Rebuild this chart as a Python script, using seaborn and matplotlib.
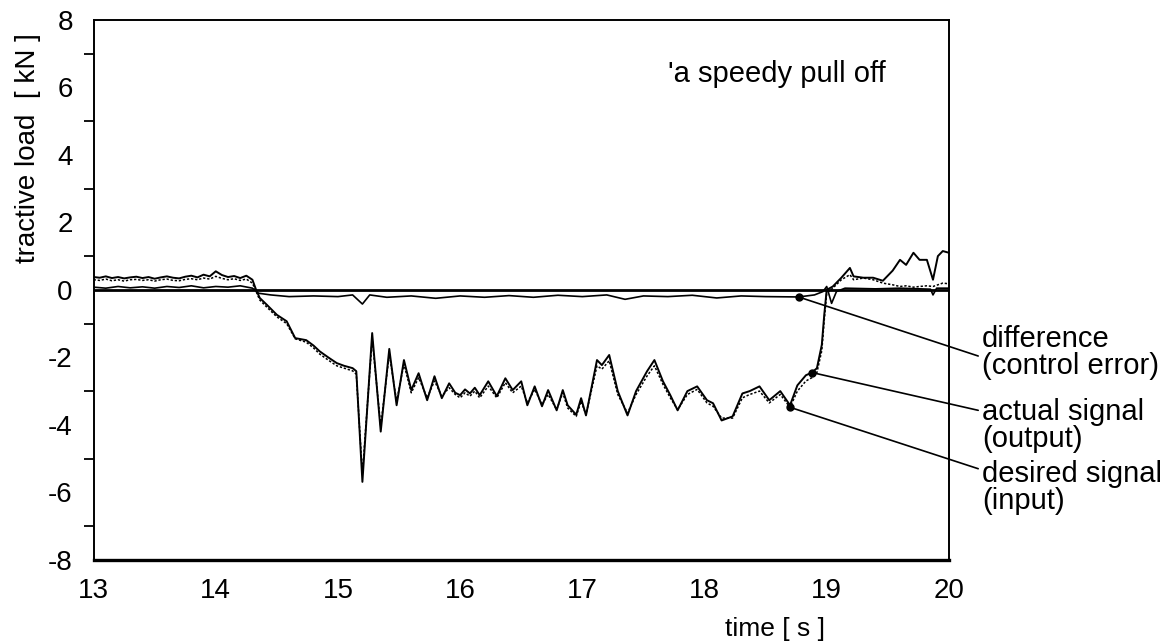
import numpy as np
import pandas as pd
import matplotlib
matplotlib.use("Agg")
import matplotlib.pyplot as plt
import seaborn as sns

# ---------------- data ----------------
time_sig = [13.00, 13.05, 13.10, 13.15, 13.20, 13.25, 13.30, 13.35, 13.40, 13.45,
            13.50, 13.55, 13.60, 13.65, 13.70, 13.75, 13.80, 13.85, 13.90, 13.95,
            14.00, 14.05, 14.10, 14.15, 14.20, 14.25, 14.30,
            14.33, 14.36, 14.42, 14.50, 14.58, 14.65, 14.74, 14.80, 14.85, 14.92,
            14.99, 15.05, 15.12, 15.15, 15.20, 15.28, 15.35, 15.42, 15.48, 15.54,
            15.60, 15.66, 15.73, 15.79, 15.85, 15.91, 15.96, 16.00, 16.04, 16.08,
            16.12, 16.16, 16.23, 16.30, 16.37, 16.43, 16.50, 16.55, 16.61, 16.67,
            16.72, 16.79, 16.84, 16.88, 16.95, 16.99, 17.03, 17.12, 17.16, 17.22,
            17.29, 17.37, 17.44, 17.53, 17.59, 17.66, 17.72, 17.78, 17.86, 17.94,
            18.02, 18.07, 18.14, 18.23, 18.31, 18.37, 18.45, 18.53, 18.62, 18.70,
            18.76, 18.83, 18.88, 18.92, 18.96, 18.98, 19.00, 19.05, 19.12, 19.19,
            19.22, 19.30, 19.38, 19.46, 19.54, 19.60, 19.65, 19.71, 19.76, 19.82,
            19.87, 19.91, 19.95, 20.00]

actual = [0.38, 0.36, 0.40, 0.35, 0.38, 0.34, 0.37, 0.39, 0.35, 0.38,
          0.33, 0.37, 0.40, 0.36, 0.34, 0.39, 0.42, 0.37, 0.45, 0.40,
          0.55, 0.44, 0.38, 0.41, 0.35, 0.42, 0.30,
          0.00, -0.24, -0.45, -0.74, -0.93, -1.43, -1.49, -1.65, -1.82, -2.00,
          -2.17, -2.25, -2.32, -2.41, -5.69, -1.28, -4.20, -1.75, -3.42, -2.08,
          -2.97, -2.47, -3.27, -2.56, -3.21, -2.77, -3.05, -3.12, -2.95, -3.07,
          -2.90, -3.12, -2.71, -3.15, -2.62, -2.97, -2.71, -3.42, -2.86, -3.45,
          -2.97, -3.57, -2.97, -3.42, -3.70, -3.21, -3.72, -2.08, -2.23, -1.93,
          -3.00, -3.72, -3.00, -2.41, -2.08, -2.71, -3.12, -3.57, -3.00, -2.86,
          -3.27, -3.36, -3.87, -3.75, -3.07, -3.00, -2.86, -3.27, -3.00, -3.42,
          -2.83, -2.53, -2.45, -2.32, -1.63, -0.74, 0.00, 0.10, 0.36, 0.65,
          0.40, 0.36, 0.36, 0.27, 0.57, 0.89, 0.74, 1.10, 0.89, 0.89,
          0.30, 1.00, 1.15, 1.10]

desired = [0.30, 0.28, 0.32, 0.27, 0.30, 0.26, 0.30, 0.31, 0.28, 0.30,
           0.26, 0.30, 0.32, 0.28, 0.27, 0.31, 0.33, 0.30, 0.35, 0.32,
           0.40, 0.34, 0.30, 0.33, 0.28, 0.32, 0.20,
           -0.05, -0.30, -0.52, -0.80, -1.00, -1.45, -1.55, -1.72, -1.90, -2.08,
           -2.25, -2.32, -2.40, -2.50, -5.45, -1.45, -4.05, -1.90, -3.30, -2.20,
           -3.05, -2.60, -3.20, -2.70, -3.15, -2.90, -3.10, -3.20, -3.05, -3.15,
           -3.00, -3.20, -2.85, -3.20, -2.75, -3.05, -2.85, -3.35, -2.95, -3.40,
           -3.10, -3.55, -3.05, -3.50, -3.75, -3.30, -3.70, -2.25, -2.35, -2.10,
           -3.10, -3.65, -3.10, -2.55, -2.25, -2.80, -3.20, -3.55, -3.10, -2.95,
           -3.35, -3.45, -3.80, -3.80, -3.20, -3.10, -3.00, -3.35, -3.10, -3.48,
           -3.00, -2.70, -2.60, -2.45, -1.80, -0.90, -0.10, 0.05, 0.30, 0.45,
           0.30, 0.35, 0.30, 0.20, 0.15, 0.10, 0.12, 0.08, 0.10, 0.12,
           0.10, 0.15, 0.20, 0.18]

time_diff = [13.0, 13.1, 13.2, 13.3, 13.4, 13.5, 13.6, 13.7, 13.8, 13.9,
             14.0, 14.1, 14.2, 14.3, 14.35, 14.45, 14.6, 14.8, 15.0, 15.12,
             15.2, 15.26, 15.4, 15.6, 15.8, 16.0, 16.2, 16.4, 16.6, 16.8,
             17.0, 17.2, 17.35, 17.5, 17.7, 17.9, 18.1, 18.3, 18.5, 18.77,
             18.9, 18.97, 19.0, 19.04, 19.08, 19.15, 19.4, 19.6, 19.85, 19.87,
             19.9, 20.0]
difference = [0.08, 0.05, 0.10, 0.06, 0.09, 0.05, 0.10, 0.07, 0.12, 0.06,
              0.10, 0.08, 0.12, 0.05, -0.10, -0.15, -0.20, -0.18, -0.20, -0.15,
              -0.42, -0.15, -0.22, -0.18, -0.25, -0.18, -0.22, -0.17, -0.22, -0.16,
              -0.20, -0.15, -0.28, -0.18, -0.20, -0.16, -0.24, -0.18, -0.20, -0.21,
              -0.15, -0.05, 0.10, -0.40, -0.05, 0.05, 0.03, 0.05, 0.02, -0.15,
              0.05, 0.05]

x_ticks = [13, 14, 15, 16, 17, 18, 19, 20]
y_ticks = [-8, -6, -4, -2, 0, 2, 4, 6, 8]
y_minor = [-7, -5, -3, -1, 1, 3, 5, 7]

labels = ["difference\n(control error)", "actual signal\n(output)", "desired signal\n(input)"]
anchor_t = [18.77, 18.88, 18.70]

# ---------------- figure ----------------
sns.set_theme(style="white")
plt.rcParams['font.family'] = ['Liberation Sans', 'DejaVu Sans']

fig, ax = plt.subplots(figsize=(11.7, 6.42), dpi=100)
fig.subplots_adjust(left=0.080, right=0.811, bottom=0.128, top=0.969)

df_sig = pd.DataFrame({"t": time_sig, "actual": actual, "desired": desired})
df_diff = pd.DataFrame({"t": time_diff, "difference": difference})

ax.axhline(0, color="black", lw=2.0, zorder=1)
sns.lineplot(data=df_sig, x="t", y="desired", ax=ax, color="black", lw=1.1,
             linestyle=(0, (1.5, 1.2)), estimator=None, sort=False)
sns.lineplot(data=df_sig, x="t", y="actual", ax=ax, color="black", lw=1.4,
             estimator=None, sort=False)
sns.lineplot(data=df_diff, x="t", y="difference", ax=ax, color="black", lw=1.2,
             estimator=None, sort=False)

ax.set_xlim(13, 20)
ax.set_ylim(-8, 8)
ax.set_xticks(x_ticks)
ax.set_xticklabels([str(v) for v in x_ticks])
ax.set_yticks(y_ticks)
ax.set_yticklabels([str(v) for v in y_ticks])
ax.set_yticks(y_minor, minor=True)
ax.tick_params(axis="both", which="major", direction="out", length=9, width=1.5,
               color="black", labelsize=20, labelcolor="black", pad=6)
ax.tick_params(axis="y", which="minor", direction="out", length=7, width=1.3,
               color="black", left=True)
ax.tick_params(axis="x", which="major", pad=4)

for side, sp in ax.spines.items():
    sp.set_visible(True)
    sp.set_color("black")
    sp.set_linewidth(1.4)
ax.spines["bottom"].set_linewidth(2.4)

ax.set_xlabel("time [ s ]", fontsize=19, color="black")
ax.xaxis.set_label_coords(0.797, -0.105)
ax.set_ylabel("tractive load  [ kN ]", fontsize=20, color="black")
ax.yaxis.set_label_coords(-0.062, 0.763)

ax.text(0.672, 0.9, "'a speedy pull off", transform=ax.transAxes, fontsize=21,
        ha="left", va="center", color="black")

# annotations
series_t = [time_diff, time_sig, time_sig]
series_v = [difference, actual, desired]
end_v = [-1.96, -3.57, -5.30]
text_v = [-1.85, -4.02, -5.86]
for lab, ta, st, sv, ev, tv in zip(labels, anchor_t, series_t, series_v, end_v, text_v):
    va = float(np.interp(ta, st, sv))
    ax.plot([ta], [va], "o", color="black", ms=5, zorder=5)
    ax.annotate("", xy=(ta, va), xytext=(20.24, ev), annotation_clip=False,
                arrowprops=dict(arrowstyle="-", color="black", lw=1.2,
                                shrinkA=0, shrinkB=0))
    ax.text(20.27, tv, lab, fontsize=21, ha="left", va="center", color="black",
            linespacing=0.95, clip_on=False)

fig.savefig("out.png", dpi=100)
